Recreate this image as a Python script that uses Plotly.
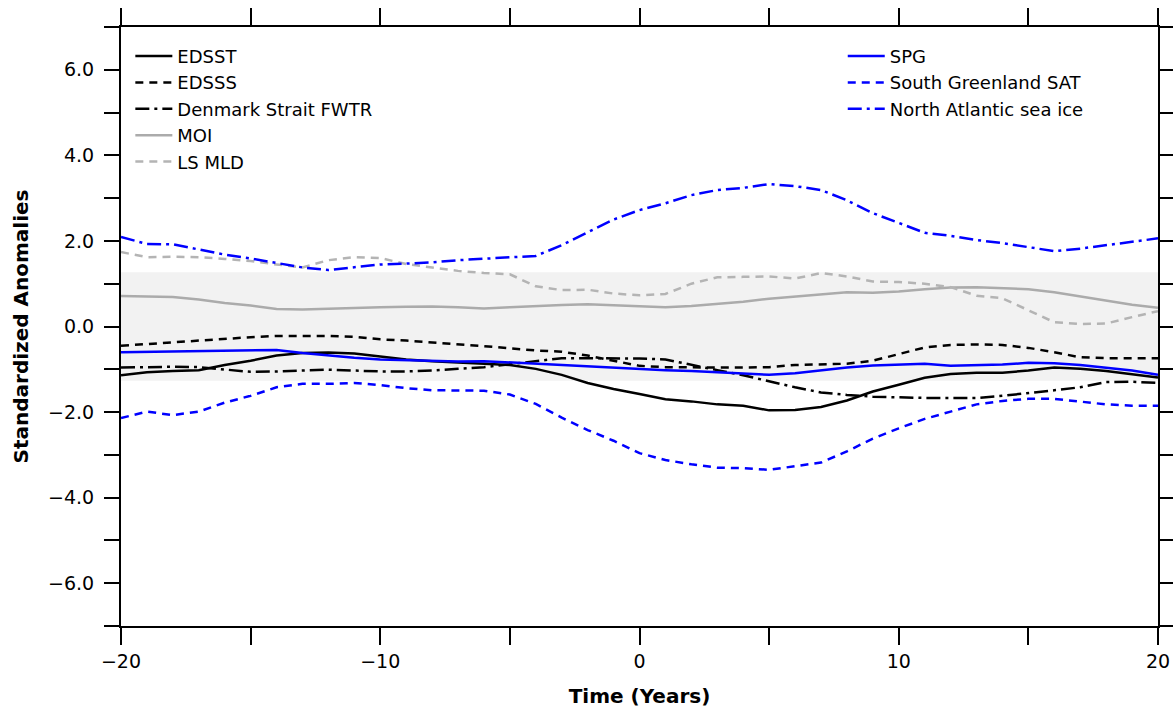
import plotly.graph_objects as go

years = list(range(-20, 21))

edsst = [-1.14, -1.07, -1.04, -1.02, -0.90, -0.80, -0.68, -0.62, -0.61, -0.63, -0.70,
         -0.77, -0.81, -0.84, -0.86, -0.90, -0.99, -1.13, -1.32, -1.46, -1.58,
         -1.70, -1.75, -1.82, -1.85, -1.96, -1.95, -1.88, -1.73, -1.52, -1.36,
         -1.20, -1.11, -1.08, -1.08, -1.03, -0.96, -0.99, -1.04, -1.11, -1.19]
edsss = [-0.45, -0.41, -0.37, -0.32, -0.28, -0.25, -0.22, -0.22, -0.22, -0.24, -0.30,
         -0.33, -0.37, -0.42, -0.46, -0.51, -0.56, -0.59, -0.68, -0.80, -0.92,
         -0.95, -0.96, -0.96, -0.96, -0.95, -0.90, -0.88, -0.87, -0.80, -0.64,
         -0.49, -0.43, -0.42, -0.43, -0.50, -0.60, -0.72, -0.74, -0.74, -0.74]
fwtr = [-0.96, -0.95, -0.94, -0.95, -1.01, -1.06, -1.05, -1.03, -1.01, -1.03, -1.05,
        -1.05, -1.03, -0.99, -0.95, -0.88, -0.81, -0.74, -0.74, -0.74, -0.75,
        -0.77, -0.90, -1.02, -1.14, -1.28, -1.42, -1.54, -1.60, -1.64, -1.66,
        -1.67, -1.67, -1.67, -1.62, -1.56, -1.49, -1.42, -1.30, -1.29, -1.32]
moi = [0.71, 0.70, 0.69, 0.63, 0.55, 0.49, 0.41, 0.40, 0.42, 0.43, 0.45,
       0.46, 0.47, 0.45, 0.42, 0.45, 0.48, 0.50, 0.52, 0.50, 0.48,
       0.45, 0.48, 0.53, 0.58, 0.65, 0.70, 0.76, 0.80, 0.79, 0.82,
       0.87, 0.91, 0.92, 0.90, 0.87, 0.80, 0.70, 0.61, 0.51, 0.44]
ls_mld = [1.74, 1.62, 1.63, 1.62, 1.58, 1.53, 1.45, 1.38, 1.55, 1.62, 1.60,
          1.46, 1.38, 1.30, 1.25, 1.22, 0.94, 0.85, 0.86, 0.77, 0.73,
          0.76, 1.00, 1.15, 1.16, 1.17, 1.12, 1.25, 1.17, 1.05, 1.04,
          1.00, 0.92, 0.72, 0.66, 0.38, 0.10, 0.06, 0.07, 0.22, 0.36]
spg = [-0.60, -0.59, -0.58, -0.57, -0.56, -0.55, -0.55, -0.62, -0.68, -0.73, -0.77,
       -0.79, -0.81, -0.82, -0.81, -0.84, -0.87, -0.91, -0.94, -0.97, -1.00,
       -1.02, -1.04, -1.07, -1.10, -1.13, -1.09, -1.02, -0.96, -0.91, -0.89,
       -0.87, -0.92, -0.91, -0.89, -0.85, -0.86, -0.90, -0.96, -1.03, -1.13]
sg_sat = [-2.14, -1.99, -2.07, -1.99, -1.78, -1.62, -1.42, -1.34, -1.34, -1.32, -1.37,
          -1.44, -1.49, -1.50, -1.50, -1.59, -1.81, -2.13, -2.42, -2.67, -2.96,
          -3.12, -3.22, -3.30, -3.31, -3.35, -3.27, -3.18, -2.92, -2.62, -2.38,
          -2.16, -1.99, -1.82, -1.74, -1.69, -1.69, -1.75, -1.82, -1.85, -1.85]
na_ice = [2.09, 1.93, 1.92, 1.80, 1.68, 1.59, 1.48, 1.38, 1.32, 1.38, 1.45,
          1.47, 1.50, 1.55, 1.58, 1.62, 1.65, 1.90, 2.20, 2.50, 2.72,
          2.88, 3.07, 3.19, 3.24, 3.33, 3.28, 3.19, 2.95, 2.65, 2.42,
          2.19, 2.12, 2.02, 1.95, 1.85, 1.76, 1.82, 1.90, 1.98, 2.06]

band_half = 1.27  # significance band

x_tickvals = list(range(-20, 21, 5))
x_ticktext = ["\u221220", "", "\u221210", "", "0", "", "10", "", "20"]
y_tickvals = list(range(-7, 8))
y_ticktext = [("\u2212%.1f" % abs(v) if v < 0 else "%.1f" % v) if v % 2 == 0 else "" for v in y_tickvals]

DASHDOT = "14px,5px,3px,5px"
DASH = "8px,6px"

series = [
    ("EDSST", edsst, "black", "solid", "legend"),
    ("EDSSS", edsss, "black", DASH, "legend"),
    ("Denmark Strait FWTR", fwtr, "black", DASHDOT, "legend"),
    ("MOI", moi, "#ababab", "solid", "legend"),
    ("LS MLD", ls_mld, "#b4b4b4", DASH, "legend"),
    ("SPG", spg, "#0000ff", "solid", "legend2"),
    ("South Greenland SAT", sg_sat, "#0000ff", DASH, "legend2"),
    ("North Atlantic sea ice", na_ice, "#0000ff", DASHDOT, "legend2"),
]

fig = go.Figure()
for name, vals, color, dash, leg in series:
    fig.add_trace(go.Scatter(
        x=years, y=vals, mode="lines", name=name, legend=leg,
        line=dict(color=color, width=2.5, dash=dash),
    ))

fig.add_shape(type="rect", xref="x", yref="y",
              x0=min(years), x1=max(years), y0=-band_half, y1=band_half,
              fillcolor="#f2f2f2", line=dict(width=0), layer="below")

font_family = "DejaVu Sans, Liberation Sans, sans-serif"
legend_style = dict(font=dict(family=font_family, size=18, color="black"),
                    bgcolor="rgba(0,0,0,0)", borderwidth=0, tracegroupgap=0,
                    itemwidth=37, yanchor="top", xanchor="left")

fig.update_layout(
    template="none",
    width=1173, height=711, autosize=False,
    margin=dict(l=121, r=15, t=27, b=85),
    paper_bgcolor="white", plot_bgcolor="white",
    font=dict(family=font_family, size=19, color="black"),
    showlegend=True,
    legend=dict(x=0.009, y=0.982, **legend_style),
    legend2=dict(x=0.696, y=0.982, **legend_style),
    xaxis=dict(range=[-20, 20], tickmode="array", tickvals=x_tickvals, ticktext=x_ticktext,
               ticks="outside", ticklen=17, tickwidth=2, tickcolor="black",
               showline=True, linecolor="black", linewidth=2, mirror="ticks",
               showgrid=False, zeroline=False, automargin=False,
               ticklabelstandoff=0,
               tickfont=dict(size=19),
               title=dict(text="<b>Time (Years)</b>", font=dict(size=20), standoff=18)),
    yaxis=dict(range=[-7, 7], tickmode="array", tickvals=y_tickvals, ticktext=y_ticktext,
               ticks="outside", ticklen=15, tickwidth=2, tickcolor="black",
               showline=True, linecolor="black", linewidth=2, mirror="ticks",
               showgrid=False, zeroline=False, automargin=False,
               ticklabelstandoff=6,
               tickfont=dict(size=19),
               title=dict(text="<b>Standardized Anomalies</b>", font=dict(size=20), standoff=14)),
)

post = (
    "document.body.style.margin='0';document.body.style.overflow='hidden';"
)

fig.write_html(
    "out.html",
    config={"responsive": False, "displayModeBar": False},
    post_script=post,
)
